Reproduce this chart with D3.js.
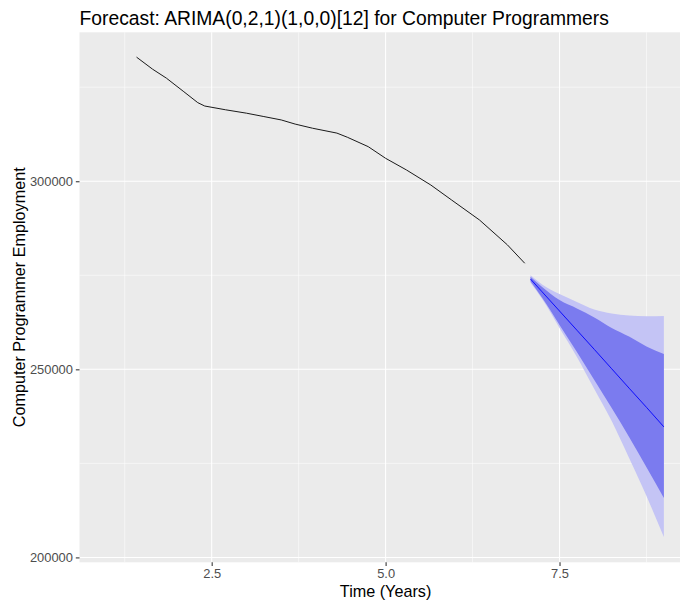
<!DOCTYPE html>
<html>
<head>
<meta charset="utf-8">
<script src="https://cdn.jsdelivr.net/npm/d3@7"></script>
<style>
  html, body { margin: 0; padding: 0; background: #ffffff; }
  svg { display: block; font-family: "Liberation Sans", Arial, sans-serif; }
</style>
</head>
<body>
<svg id="chart" width="680" height="600"></svg>
<script>
// Observed employment series (time in years)
const histTime  = [1.42, 1.65, 1.85, 2.1, 2.3, 2.4, 2.7, 3.0, 3.25, 3.5, 3.7, 3.95, 4.3, 4.45, 4.75, 5.0, 5.3, 5.65, 5.95, 6.35, 6.75, 7.0];
const histValue = [333000, 329800, 327400, 323800, 320900, 320000, 319000, 318100, 317200, 316300, 315200, 314100, 312800, 311700, 309200, 306100, 303000, 299000, 295000, 289700, 283100, 278200];

// Forecast: point forecast with 80% and 95% prediction intervals
const fcTime = [7.083, 7.25, 7.5, 7.75, 8.0, 8.25, 8.5, 8.75, 9.0];
const fcMean = [274000, 270600, 265500, 260400, 255300, 250150, 245000, 239900, 234700];
const hi80   = [274600, 271900, 268400, 266200, 263800, 261000, 258700, 256100, 254100];
const lo80   = [273400, 269000, 261800, 254600, 247150, 239700, 232000, 224000, 215800];
const hi95   = [275000, 272550, 270000, 267900, 265900, 264850, 264300, 264100, 264200];
const lo95   = [273000, 268700, 261000, 253300, 244750, 236250, 226400, 216300, 205400];

// Axis breaks
const xMajor = [2.5, 5.0, 7.5];
const xMinor = [1.25, 3.75, 6.25, 8.75];
const yMajor = [200000, 250000, 300000];
const yMinor = [225000, 275000, 325000];

const titleText = "Forecast: ARIMA(0,2,1)(1,0,0)[12] for Computer Programmers";
const xTitle = "Time (Years)";
const yTitle = "Computer Programmer Employment";

const svg = d3.select("#chart");
const panel = { left: 79.5, right: 691.7, top: 32.3, bottom: 562.3 };

const x = d3.scaleLinear().domain([0.6, 9.4]).range([panel.left, panel.right]);
const y = d3.scaleLinear().domain([198700, 339600]).range([panel.bottom, panel.top]);

// Panel background
svg.append("rect")
  .attr("x", panel.left).attr("y", panel.top)
  .attr("width", panel.right - panel.left).attr("height", panel.bottom - panel.top)
  .attr("fill", "#ebebeb");

const grid = svg.append("g");
grid.selectAll(".xminor").data(xMinor).enter().append("line")
  .attr("x1", d => x(d)).attr("x2", d => x(d))
  .attr("y1", panel.top).attr("y2", panel.bottom)
  .attr("stroke", "#ffffff").attr("stroke-width", 0.53);
grid.selectAll(".yminor").data(yMinor).enter().append("line")
  .attr("y1", d => y(d)).attr("y2", d => y(d))
  .attr("x1", panel.left).attr("x2", panel.right)
  .attr("stroke", "#ffffff").attr("stroke-width", 0.53);
grid.selectAll(".xmajor").data(xMajor).enter().append("line")
  .attr("x1", d => x(d)).attr("x2", d => x(d))
  .attr("y1", panel.top).attr("y2", panel.bottom)
  .attr("stroke", "#ffffff").attr("stroke-width", 1.07);
grid.selectAll(".ymajor").data(yMajor).enter().append("line")
  .attr("y1", d => y(d)).attr("y2", d => y(d))
  .attr("x1", panel.left).attr("x2", panel.right)
  .attr("stroke", "#ffffff").attr("stroke-width", 1.07);

// Prediction interval ribbons
const band95 = fcTime.map((t, i) => ({ t, lo: lo95[i], hi: hi95[i] }));
const band80 = fcTime.map((t, i) => ({ t, lo: lo80[i], hi: hi80[i] }));
const area = d3.area().x(d => x(d.t)).y0(d => y(d.lo)).y1(d => y(d.hi)).curve(d3.curveMonotoneX);

svg.append("path").datum(band95).attr("d", area).attr("fill", "#c4c4f5");
svg.append("path").datum(band80).attr("d", area).attr("fill", "#7b7bef");

// Observed series
const histData = histTime.map((t, i) => ({ t, v: histValue[i] }));
const line = d3.line().x(d => x(d.t)).y(d => y(d.v));
svg.append("path").datum(histData).attr("d", line)
  .attr("fill", "none").attr("stroke", "#1a1a1a").attr("stroke-width", 1);

// Point forecast
const fcData = fcTime.map((t, i) => ({ t, v: fcMean[i] }));
svg.append("path").datum(fcData).attr("d", line)
  .attr("fill", "none").attr("stroke", "#0000ff").attr("stroke-width", 0.9);

// Axes
const xAxis = d3.axisBottom(x).tickValues(xMajor).tickFormat(d3.format(".1f")).tickSize(3.67).tickPadding(2.9);
const yAxis = d3.axisLeft(y).tickValues(yMajor).tickFormat(d3.format("d")).tickSize(3.67).tickPadding(2.9);

const gx = svg.append("g").attr("transform", `translate(0,${panel.bottom})`).call(xAxis);
const gy = svg.append("g").attr("transform", `translate(${panel.left},0)`).call(yAxis);
[gx, gy].forEach(g => {
  g.select(".domain").remove();
  g.selectAll(".tick line").attr("stroke", "#333333").attr("stroke-width", 1.07);
  g.selectAll(".tick text").attr("fill", "#4d4d4d").style("font-size", "12.9px")
    .style("font-family", "'Liberation Sans', Arial, sans-serif");
});

// Titles
svg.append("text").attr("x", 79.5).attr("y", 25)
  .attr("fill", "#000").style("font-size", "19.3px").text(titleText);
svg.append("text").attr("x", (panel.left + panel.right) / 2).attr("y", 597)
  .attr("text-anchor", "middle").attr("fill", "#000").style("font-size", "16.2px").text(xTitle);
svg.append("text")
  .attr("transform", `translate(24.5,${(panel.top + panel.bottom) / 2}) rotate(-90)`)
  .attr("text-anchor", "middle").attr("fill", "#000").style("font-size", "16.2px").text(yTitle);
</script>
</body>
</html>
